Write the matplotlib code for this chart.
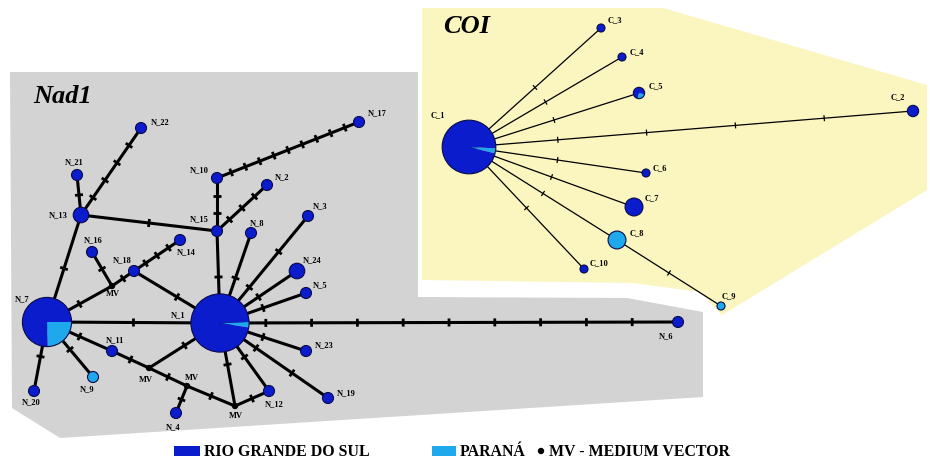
import matplotlib

matplotlib.use("Agg")

import numpy as np
import matplotlib.pyplot as plt
from matplotlib.patches import Polygon, Wedge, Circle, Rectangle

# Palette
GREY = "#d3d3d3"
YELLOW = "#fbf6bf"
RS = "#0b1ccc"      # Rio Grande do Sul
PR = "#1ea9ec"      # Paraná
EDGE = "#0a0a48"
LINE = "#000000"
SERIF = ["Liberation Serif", "DejaVu Serif"]

# ── Data: haplotype frequencies, Paraná share, mutational steps ─────────
nad_names = ["N_1", "N_2", "N_3", "N_4", "N_5", "N_6", "N_7", "N_8", "N_9", "N_10",
             "N_11", "N_12", "N_13", "N_14", "N_15", "N_16", "N_17", "N_18", "N_19",
             "N_20", "N_21", "N_22", "N_23", "N_24"]
nad_counts = [28, 1, 1, 1, 1, 1, 20, 1, 1, 1, 1, 1, 2, 1, 1, 1, 1, 1, 1, 1, 1, 1, 1, 2]
nad_pr_share = [0.03, 0, 0, 0, 0, 0, 0.245, 0, 1, 0, 0, 0, 0, 0, 0, 0, 0, 0, 0, 0, 0, 0, 0, 0]
nad_mv = ["MV1", "MV2", "MV3", "MV4"]
nad_edges = [
    ("N_13", "N_22", 4), ("N_13", "N_21", 1), ("N_13", "N_15", 1), ("N_13", "N_7", 1),
    ("N_10", "N_17", 9), ("N_10", "N_15", 2), ("N_15", "N_2", 3), ("N_15", "N_1", 1),
    ("N_1", "N_8", 1), ("N_1", "N_3", 2), ("N_1", "N_24", 1), ("N_1", "N_5", 1),
    ("N_1", "N_6", 9), ("N_16", "MV1", 1), ("MV1", "N_7", 1), ("MV1", "N_18", 1),
    ("N_18", "N_14", 3), ("N_18", "N_1", 1), ("N_7", "N_1", 1), ("N_7", "N_11", 1),
    ("N_7", "N_9", 1), ("N_7", "N_20", 1), ("N_11", "MV2", 1), ("MV2", "N_1", 1),
    ("MV2", "MV3", 1), ("MV3", "N_4", 1), ("MV3", "MV4", 1), ("MV4", "N_1", 1),
    ("MV4", "N_12", 1), ("N_1", "N_12", 1), ("N_1", "N_23", 1), ("N_1", "N_19", 2),
]

coi_names = ["C_1", "C_2", "C_3", "C_4", "C_5", "C_6", "C_7", "C_8", "C_9", "C_10"]
coi_counts = [45, 2, 1, 1, 2, 1, 5, 5, 1, 1]
coi_pr_share = [0.03, 0, 0, 0, 0.25, 0, 0, 1, 1, 0]
coi_edges = [
    ("C_1", "C_3", 1), ("C_1", "C_4", 1), ("C_1", "C_5", 1), ("C_1", "C_2", 4),
    ("C_1", "C_6", 1), ("C_1", "C_7", 1), ("C_1", "C_8", 1), ("C_1", "C_10", 1),
    ("C_8", "C_9", 1),
]

legend_labels = ["RIO GRANDE DO SUL", "PARANÁ", "MV - MEDIUM VECTOR"]

# ── Layout (pixel space, y down) ───────────────────────────────────────
POS = {
    "N_1": (220, 323), "N_2": (267, 185), "N_3": (308, 216), "N_4": (176, 413),
    "N_5": (306, 293), "N_6": (678, 322), "N_7": (47, 322), "N_8": (251, 233),
    "N_9": (93, 377), "N_10": (217, 178), "N_11": (112, 351), "N_12": (269, 391),
    "N_13": (81, 215), "N_14": (180, 240), "N_15": (217, 231), "N_16": (92, 252),
    "N_17": (359, 122), "N_18": (134, 271), "N_19": (328, 398), "N_20": (34, 391),
    "N_21": (77, 175), "N_22": (141, 128), "N_23": (306, 351), "N_24": (297, 271),
    "MV1": (112, 286), "MV2": (149, 368), "MV3": (187, 386), "MV4": (235, 406),
    "C_1": (469, 147), "C_2": (913, 111), "C_3": (601, 28), "C_4": (622, 57),
    "C_5": (639, 93), "C_6": (646, 173), "C_7": (634, 207), "C_8": (617, 240),
    "C_9": (721, 306), "C_10": (584, 269),
}
LABEL = {
    "N_1": (178, 315), "N_2": (282, 177), "N_3": (320, 206), "N_4": (173, 427),
    "N_5": (320, 285), "N_6": (666, 336), "N_7": (22, 299), "N_8": (257, 223),
    "N_9": (87, 389), "N_10": (199, 170), "N_11": (115, 340), "N_12": (274, 404),
    "N_13": (58, 215), "N_14": (186, 252), "N_15": (199, 219), "N_16": (93, 240),
    "N_17": (377, 113), "N_18": (122, 260), "N_19": (346, 393), "N_20": (31, 402),
    "N_21": (74, 162), "N_22": (160, 122), "N_23": (324, 345), "N_24": (312, 260),
    "MV1": (113, 294), "MV2": (146, 380), "MV3": (192, 378), "MV4": (236, 416),
    "C_1": (438, 115), "C_2": (898, 97), "C_3": (615, 20), "C_4": (637, 52),
    "C_5": (656, 86), "C_6": (660, 168), "C_7": (652, 198), "C_8": (637, 233),
    "C_9": (729, 296), "C_10": (599, 263),
}
# visual angle (deg, counter-clockwise) where the Paraná slice ends
PIE_END = {"N_1": 2, "N_7": 0, "C_1": -3, "C_5": -15}

GREY_POLY = [(10, 72), (418, 72), (418, 297), (627, 298), (703, 312),
             (703, 397), (60, 438), (12, 408)]
YELLOW_POLY = [(422, 8), (663, 8), (927, 85), (927, 190), (722, 315),
               (700, 292), (633, 283), (422, 280)]


def pie(ax, name, r, share):
    x, y = POS[name]
    if share <= 0:
        ax.add_patch(Circle((x, y), r, fc=RS, ec=EDGE, lw=0.8, zorder=4))
    elif share >= 1:
        ax.add_patch(Circle((x, y), r, fc=PR, ec=EDGE, lw=0.8, zorder=4))
    else:
        a1 = PIE_END[name]
        a0 = a1 - share * 360
        # y axis is inverted: visual angle a -> data angle -a
        ax.add_patch(Wedge((x, y), r, -a1, -a0, fc=PR, ec="none", zorder=4))
        ax.add_patch(Wedge((x, y), r, -a0, 360 - a1, fc=RS, ec="none", zorder=4))
        ax.add_patch(Circle((x, y), r, fc="none", ec=EDGE, lw=0.8, zorder=5))


def link(ax, a, b, steps, lw, tick, tlw):
    (x0, y0), (x1, y1) = POS[a], POS[b]
    ax.plot([x0, x1], [y0, y1], color=LINE, lw=lw, solid_capstyle="butt", zorder=2)
    d = np.array([x1 - x0, y1 - y0], dtype=float)
    d /= np.hypot(*d)
    n = np.array([-d[1], d[0]])
    for i in range(1, steps + 1):
        t = i / (steps + 1)
        px, py = x0 + t * (x1 - x0), y0 + t * (y1 - y0)
        ax.plot([px - n[0] * tick, px + n[0] * tick], [py - n[1] * tick, py + n[1] * tick],
                color=LINE, lw=tlw, solid_capstyle="butt", zorder=3)


def main() -> None:
    fig = plt.figure(figsize=(9.3, 4.61), dpi=100, facecolor="white")
    ax = fig.add_axes([0, 0, 1, 1])
    ax.set_xlim(0, 930)
    ax.set_ylim(461, 0)
    ax.axis("off")

    ax.add_patch(Polygon(GREY_POLY, closed=True, fc=GREY, ec="none", zorder=0))
    ax.add_patch(Polygon(YELLOW_POLY, closed=True, fc=YELLOW, ec="none", zorder=0))

    ax.text(33, 103, "Nad1", family=SERIF, fontsize=19, fontweight="bold",
            style="italic", va="baseline", zorder=6)
    ax.text(443, 33, "COI", family=SERIF, fontsize=19, fontweight="bold",
            style="italic", va="baseline", zorder=6)

    # ── Nad1 network ───────────────────────────────────────────────────
    for a, b, s in nad_edges:
        link(ax, a, b, s, lw=2.2, tick=4.0, tlw=2.0)
    for name, c, sh in zip(nad_names, nad_counts, nad_pr_share):
        pie(ax, name, 5.5 * np.sqrt(c), sh)
    for mv in nad_mv:
        ax.add_patch(Circle(POS[mv], 3.2, fc="black", ec="none", zorder=4))

    # ── COI network ────────────────────────────────────────────────────
    for a, b, s in coi_edges:
        link(ax, a, b, s, lw=0.9, tick=3.0, tlw=0.9)
    for name, c, sh in zip(coi_names, coi_counts, coi_pr_share):
        pie(ax, name, 4.0 * np.sqrt(c), sh)

    for name, (lx, ly) in LABEL.items():
        txt = "MV" if name.startswith("MV") else name
        ax.text(lx, ly, txt, family=SERIF, fontsize=6, fontweight="bold",
                ha="center", va="center", zorder=6)

    # ── Legend ─────────────────────────────────────────────────────────
    ly = 451
    fs = 11.4
    ax.add_patch(Rectangle((174, ly - 5), 26, 10, fc=RS, ec="none"))
    ax.text(204, ly + 1, legend_labels[0], family=SERIF, fontsize=fs,
            fontweight="bold", va="center")
    ax.add_patch(Rectangle((432, ly - 5), 24, 10, fc=PR, ec="none"))
    ax.text(460, ly + 1, legend_labels[1], family=SERIF, fontsize=fs,
            fontweight="bold", va="center")
    ax.add_patch(Circle((541, ly), 3.2, fc="black", ec="none"))
    ax.text(549, ly + 1, legend_labels[2], family=SERIF, fontsize=fs,
            fontweight="bold", va="center")

    fig.savefig("out.png", dpi=100, facecolor="white")
    plt.close(fig)


if __name__ == "__main__":
    main()
